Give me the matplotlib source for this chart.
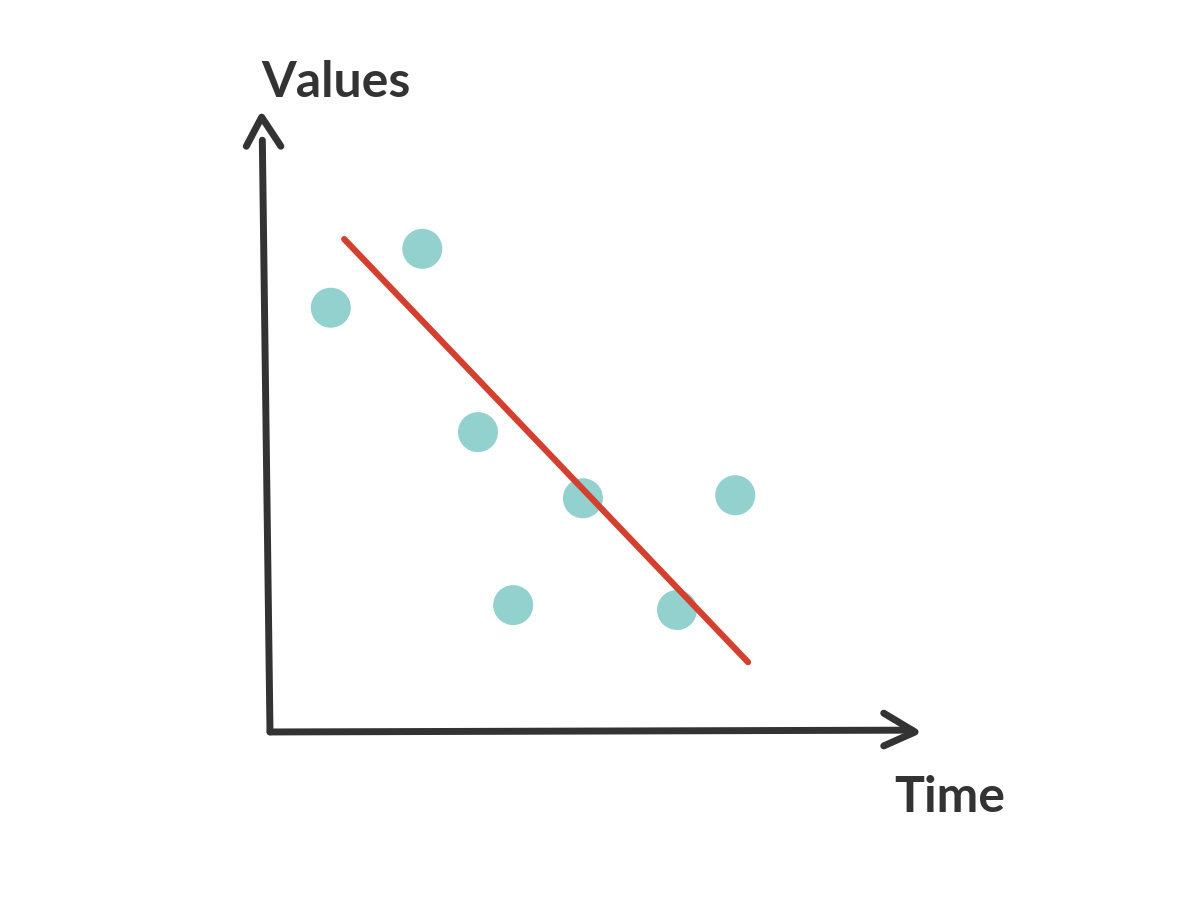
import matplotlib.pyplot as plt
import numpy as np

# scatter points (time, value) in chart units
time_vals = [0.95, 2.38, 3.25, 4.89, 7.27, 3.80, 6.36]
value_vals = [6.99, 7.96, 4.94, 3.85, 3.90, 2.09, 2.01]

# trend line endpoints
trend_x = [1.16, 7.47]
trend_y = [8.12, 1.15]

X_MAX, Y_MAX = 10, 10
INK = '#333333'

fig = plt.figure(figsize=(12, 9), dpi=100)
ax = fig.add_axes([0.225, 0.1867, 0.5333, 0.6744])
ax.set_xlim(0, X_MAX)
ax.set_ylim(0, Y_MAX)
ax.axis('off')

kw = dict(color=INK, linewidth=5, solid_capstyle='round',
          solid_joinstyle='round', clip_on=False)
# hand-drawn axes with chevron arrows
ax.plot([0, -0.12], [0, 0.975 * Y_MAX], **kw)
ax.plot([-0.37, -0.13, 0.17], [0.965 * Y_MAX, 1.013 * Y_MAX, 0.965 * Y_MAX], **kw)
ax.plot([0, 1.003 * X_MAX], [0, 0.03], **kw)
ax.plot([0.959 * X_MAX, 1.008 * X_MAX, 0.959 * X_MAX], [0.31, 0.0, -0.23], **kw)

ax.scatter(time_vals, value_vals, s=830, color='#93d1cf', edgecolor='none',
           zorder=2, clip_on=False)
ax.plot(trend_x, trend_y, color='#d4402f', linewidth=4.5,
        solid_capstyle='round', zorder=3)

fig.text(0.218, 0.892, 'Values', fontsize=36, color=INK, family='Lato',
         fontweight='bold')
fig.text(0.745, 0.098, 'Time', fontsize=36, color=INK, family='Lato',
         fontweight='bold')

fig.savefig('out.png', dpi=100)
